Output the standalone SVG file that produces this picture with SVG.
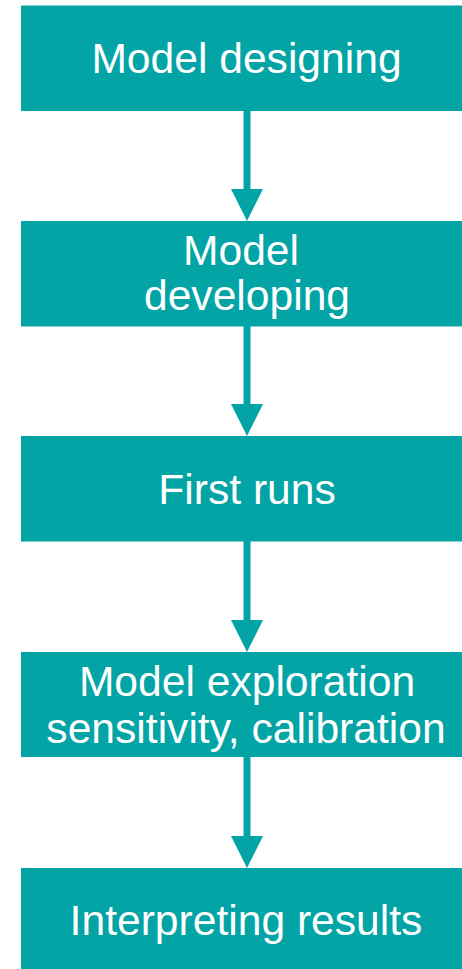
<svg xmlns="http://www.w3.org/2000/svg" width="462" height="969" viewBox="0 0 462 969">
  <style>
    .box { fill: #02A4A6; }
    .lbl { font-family: "Liberation Sans", Arial, sans-serif; font-size: 42.6px; fill: #FFFFFF; text-anchor: middle; }
    .line { stroke: #02A4A6; stroke-width: 7; fill: none; }
    .head { fill: #02A4A6; }
  </style>
  <rect width="462" height="969" fill="#FFFFFF"/>
  <g id="connectors">
    <line class="line" x1="247" y1="110" x2="247" y2="190"/>
    <polygon class="head" points="231,189 263,189 247,221"/>
    <line class="line" x1="247" y1="325" x2="247" y2="405"/>
    <polygon class="head" points="231,404 263,404 247,436"/>
    <line class="line" x1="247" y1="540" x2="247" y2="621"/>
    <polygon class="head" points="231,620 263,620 247,652"/>
    <line class="line" x1="247" y1="756" x2="247" y2="837"/>
    <polygon class="head" points="231,836 263,836 247,868"/>
  </g>
  <g id="node1">
    <rect class="box" x="21" y="5.5" width="452" height="105.5"/>
    <text class="lbl" x="246.5" y="73">Model designing</text>
  </g>
  <g id="node2">
    <rect class="box" x="21" y="221" width="452" height="105.5"/>
    <text class="lbl" x="241" y="265">Model</text>
    <text class="lbl" x="247" y="310">developing</text>
  </g>
  <g id="node3">
    <rect class="box" x="21" y="436" width="452" height="105.5"/>
    <text class="lbl" x="247" y="504">First runs</text>
  </g>
  <g id="node4">
    <rect class="box" x="21" y="652" width="452" height="105"/>
    <text class="lbl" x="247" y="696">Model exploration</text>
    <text class="lbl" x="246" y="742.5">sensitivity, calibration</text>
  </g>
  <g id="node5">
    <rect class="box" x="21" y="868" width="452" height="110"/>
    <text class="lbl" x="246" y="935">Interpreting results</text>
  </g>
</svg>
